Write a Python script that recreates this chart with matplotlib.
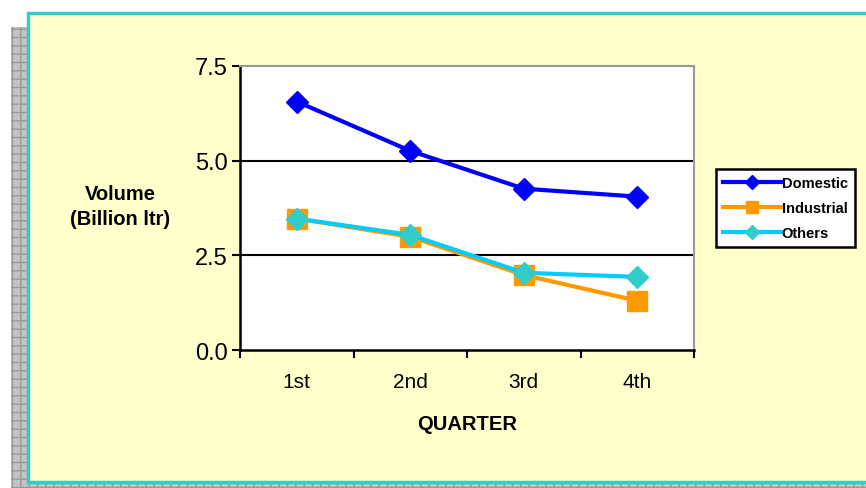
import numpy as np
import matplotlib
matplotlib.use('Agg')
import matplotlib.pyplot as plt
import matplotlib.patches as mpatches

plt.rcParams['font.family'] = ['Liberation Sans', 'DejaVu Sans']

quarters = ['1st', '2nd', '3rd', '4th']
domestic = [6.56, 5.26, 4.26, 4.05]
industrial = [3.47, 2.99, 1.98, 1.30]
others = [3.47, 3.04, 2.04, 1.93]
y_ticks = [0.0, 2.5, 5.0, 7.5]

W, H = 866, 489
fig = plt.figure(figsize=(W / 100, H / 100), dpi=100)
fig.patch.set_facecolor('white')

# gray patterned shadow behind the panel
shadow = mpatches.Rectangle((11 / W, 0), 1, (H - 28) / H, transform=fig.transFigure,
                            facecolor='#c4c4c4', edgecolor='#9a9a9a', hatch='++',
                            linewidth=0, zorder=0)
fig.patches.append(shadow)
# yellow panel with teal border
panel = mpatches.Rectangle((28 / W, 6 / H), 1, (H - 14 - 6) / H, transform=fig.transFigure,
                           facecolor='#ffffcc', edgecolor='#33cccc', linewidth=2.5, zorder=1)
fig.patches.append(panel)

ax = fig.add_axes([240 / W, (H - 351) / H, (694 - 240) / W, (351 - 67) / H])
ax.set_facecolor('white')
ax.set_zorder(2)

x = np.arange(len(quarters))
ax.plot(x, domestic, color='#0000ff', lw=3, marker='D', ms=11.5, label='Domestic', zorder=5)
ax.plot(x, industrial, color='#ff9900', lw=3, marker='s', ms=15, label='Industrial', zorder=3)
ax.plot(x, others, color='#00ccff', lw=3, marker='D', ms=11.5, mfc='#33cccc', mec='#33cccc',
        label='Others', zorder=4)

ax.set_xlim(-0.5, 3.5)
ax.set_ylim(0, 7.5)
ax.set_yticks(y_ticks)
ax.set_yticklabels(['%.1f' % v for v in y_ticks], fontsize=17)
ax.set_xticks(x)
ax.set_xticklabels(quarters, fontsize=15)
ax.set_xticks(np.arange(-0.5, 4.0, 1.0), minor=True)
ax.tick_params(axis='x', which='major', length=0, pad=16)
ax.tick_params(axis='x', which='minor', length=6, width=1.5, direction='out')
ax.tick_params(axis='y', length=6, width=1.5, direction='out', pad=3)

for v in [2.5, 5.0]:
    ax.axhline(v, color='black', lw=1.5, zorder=1)

for side in ['left', 'bottom']:
    ax.spines[side].set_linewidth(1.8)
    ax.spines[side].set_color('black')
for side in ['top', 'right']:
    ax.spines[side].set_linewidth(1.5)
    ax.spines[side].set_color('#999999')

ax.set_xlabel('QUARTER', fontsize=14.5, fontweight='bold', va='center')
ax.xaxis.set_label_coords(0.5, (351 - 424) / 284)
fig.text(120 / W, (H - 207) / H, 'Volume\n(Billion ltr)', fontsize=14.5, fontweight='bold',
         ha='center', va='center', linespacing=1.45)

leg = ax.legend(loc='upper left', bbox_to_anchor=(716 / W, (H - 170) / H),
                bbox_transform=fig.transFigure, prop={'size': 10.5, 'weight': 'bold'},
                frameon=True, fancybox=False, edgecolor='black', framealpha=1,
                markerscale=0.6, handlelength=4.0, handletextpad=0.0, borderpad=0.5,
                labelspacing=0.75, borderaxespad=0)
leg.get_frame().set_linewidth(1.8)

fig.savefig('out.png', dpi=100)
